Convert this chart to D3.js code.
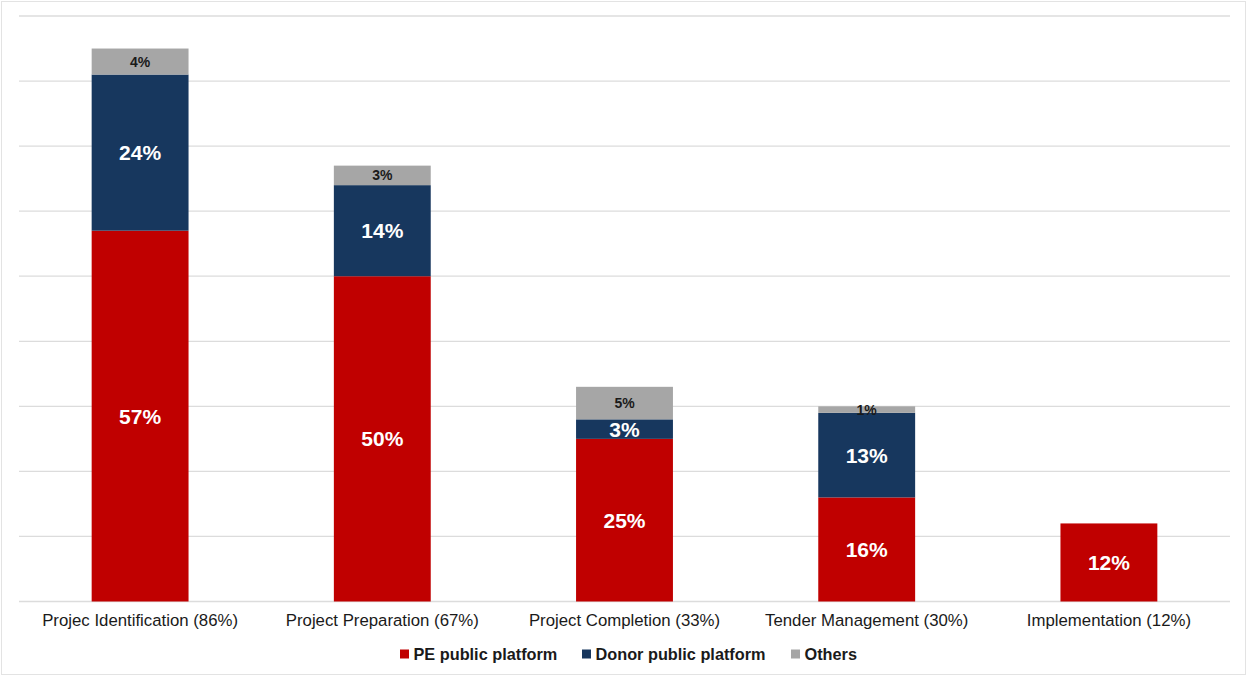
<!DOCTYPE html>
<html>
<head>
<meta charset="utf-8">
<script src="https://cdn.jsdelivr.net/npm/d3@7"></script>
<style>
  html, body { margin: 0; padding: 0; background: #fff; }
  svg { display: block; font-family: "Liberation Sans", Arial, sans-serif; }
</style>
</head>
<body>
<svg id="chart" width="1247" height="676"></svg>
<script>
// Stages of the project cycle and the share of each publication channel (%)
const categories = [
  "Projec Identification (86%)",
  "Project Preparation (67%)",
  "Project Completion (33%)",
  "Tender Management (30%)",
  "Implementation (12%)"
];
const pePublic    = [57, 50, 25, 16, 12];
const donorPublic = [24, 14, 3, 13, 0];
const others      = [4, 3, 5, 1, 0];
const seriesNames = ["PE public platform", "Donor public platform", "Others"];
const yTicks = [0, 10, 20, 30, 40, 50, 60, 70, 80, 90];

const colors = ["#C00000", "#17375E", "#A6A6A6"];
const labelStyle = [
  { fill: "#fff", size: 21 },
  { fill: "#fff", size: 21 },
  { fill: "#1a1a1a", size: 14 }
];

const W = 1247, H = 676;
const plot = { left: 19, right: 1230, top: 16, bottom: 601.5 };

const svg = d3.select("#chart");

// outer frame
svg.append("rect")
  .attr("x", 1.5).attr("y", 1.5)
  .attr("width", W - 3).attr("height", H - 3)
  .attr("fill", "#fff").attr("stroke", "#E3E3E3").attr("stroke-width", 1);

const x = d3.scaleBand().domain(categories).range([plot.left, plot.right]).paddingInner(0.6).paddingOuter(0.3);
const y = d3.scaleLinear().domain([0, 90]).range([plot.bottom, plot.top]);

// horizontal gridlines
svg.append("g").selectAll("line").data(yTicks).join("line")
  .attr("x1", plot.left).attr("x2", plot.right)
  .attr("y1", d => y(d)).attr("y2", d => y(d))
  .attr("stroke", "#DCDCDC").attr("stroke-width", 1.3);

// stack data
const rows = categories.map((c, i) => ({ cat: c, s0: pePublic[i], s1: donorPublic[i], s2: others[i] }));
const stack = d3.stack().keys(["s0", "s1", "s2"]);
const layers = stack(rows);

const gBars = svg.append("g");
layers.forEach((layer, k) => {
  gBars.append("g").selectAll("rect").data(layer.filter(d => d[1] - d[0] > 0)).join("rect")
    .attr("x", d => x(d.data.cat))
    .attr("width", x.bandwidth())
    .attr("y", d => y(d[1]))
    .attr("height", d => y(d[0]) - y(d[1]))
    .attr("fill", colors[k]);
});

// value labels
layers.forEach((layer, k) => {
  svg.append("g").selectAll("text").data(layer.filter(d => d[1] - d[0] > 0)).join("text")
    .attr("x", d => x(d.data.cat) + x.bandwidth() / 2)
    .attr("y", d => (y(d[0]) + y(d[1])) / 2)
    .attr("dy", "0.36em")
    .attr("text-anchor", "middle")
    .attr("font-weight", "bold")
    .attr("font-size", labelStyle[k].size)
    .attr("fill", labelStyle[k].fill)
    .text(d => (d[1] - d[0]) + "%");
});

// category axis
const xAxis = svg.append("g")
  .attr("transform", `translate(0,${plot.bottom})`)
  .call(d3.axisBottom(x).tickSize(0).tickPadding(13));
xAxis.select(".domain").remove();
xAxis.selectAll("text")
  .attr("font-family", "Liberation Sans, Arial, sans-serif")
  .attr("font-size", 16.8).attr("fill", "#1a1a1a");

// legend
const legendX = [400, 582, 791];
const legend = svg.append("g").attr("transform", "translate(0,654)");
seriesNames.forEach((name, k) => {
  const g = legend.append("g").attr("transform", `translate(${legendX[k]},0)`);
  g.append("rect").attr("x", 0).attr("y", -4.5).attr("width", 9).attr("height", 9).attr("fill", colors[k]);
  g.append("text").attr("x", 13.5).attr("dy", "0.36em")
    .attr("font-size", 16.3).attr("font-weight", "bold").attr("fill", "#1a1a1a")
    .text(name);
});
</script>
</body>
</html>
